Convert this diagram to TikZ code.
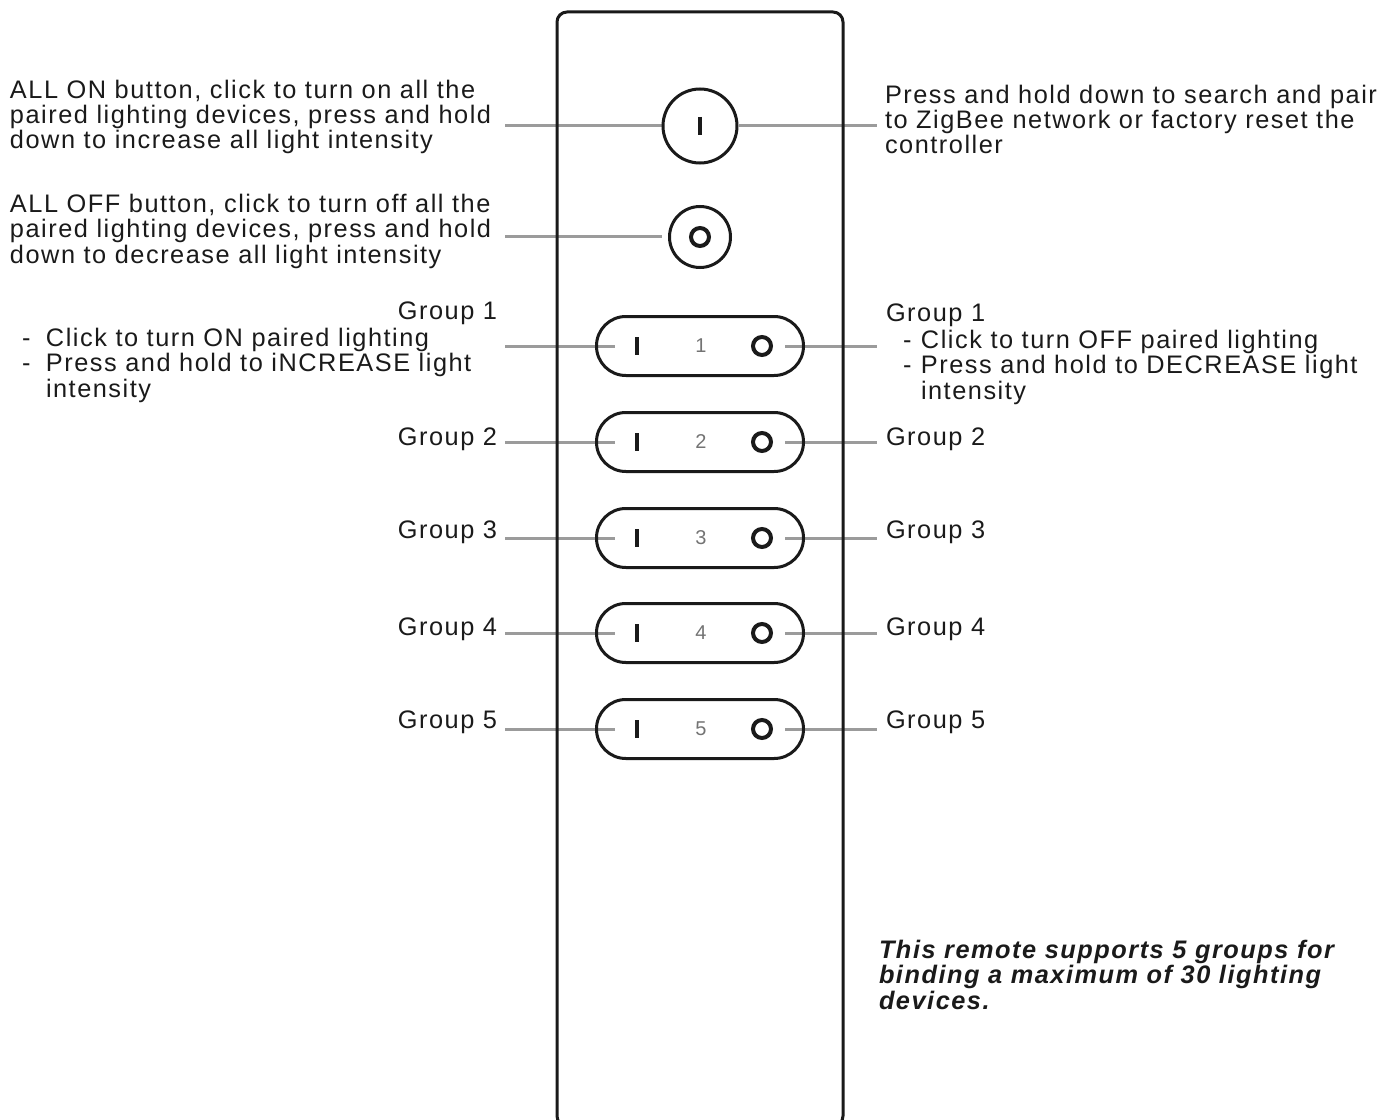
\documentclass[tikz,border=0pt]{standalone}
\usepackage{fontspec}
\setmainfont{Liberation Sans}[LetterSpace=6]
\newfontfamily\numfont{Liberation Sans}
\usetikzlibrary{calc}
\definecolor{linegray}{RGB}{155,155,155}
\definecolor{ink}{RGB}{26,26,26}
\pgfdeclarelayer{bg}
\pgfsetlayers{bg,main}
\begin{document}
\begin{tikzpicture}[x=0.75pt,y=-0.75pt,
  lbl/.style={inner sep=0pt, outer sep=0pt, align=left, text=ink, font=\fontsize{19}{19.1}\selectfont},
  note/.style={lbl, font=\fontsize{19}{19.1}\selectfont\bfseries\itshape},
  conn/.style={draw=linegray, line width=2.25pt},
  outline/.style={draw=ink, line width=2.25pt},
  roundbtn/.style={outline, circle, inner sep=0pt},
  grpbtn/.style={outline, rectangle, rounded corners=22pt, minimum width=155.25pt, minimum height=44.25pt, inner sep=0pt},
  glyph/.style={draw=ink, line width=3pt},
  num/.style={inner sep=0pt, text=black!55, font=\numfont\fontsize{15}{15}\selectfont}
]
\useasboundingbox (0,0) rectangle (1379,1120);

% remote body
\draw[outline, rounded corners=7.5pt] (557,12) rectangle (843,1126);

% top buttons
\node[roundbtn, minimum size=55.5pt] (on) at (700,126) {};
\draw[glyph, line width=2.6pt] ($(on)+(0,-9)$) -- ($(on)+(0,9)$);
\node[roundbtn, minimum size=45.75pt] (off) at (700,237) {};
\draw[glyph] (off) circle[radius=9];

% group buttons
\foreach \k/\yy in {1/346,2/442,3/538,4/633,5/729} {
  \node[grpbtn] (g\k) at (700,\yy) {};
  \draw[glyph] ($(g\k)+(-63,-9)$) -- ($(g\k)+(-63,9)$);
  \draw[glyph] ($(g\k)+(62,0)$) circle[radius=9];
  \node[num] (n\k) at ($(g\k)+(1,0)$) {\k};
  \coordinate (gl\k) at (505,\yy);
  \coordinate (gr\k) at (877,\yy);
}

% labels (base anchor = baseline of the last line)
\node[lbl, anchor=base west] (tOn) at (10,149) {ALL ON button, click to turn on all the\\paired lighting devices, press and hold\\down to increase all light intensity};
\node[lbl, anchor=base west] (tOff) at (10,263) {ALL OFF button, click to turn off all the\\paired lighting devices, press and hold\\down to decrease all light intensity};
\node[lbl, anchor=base west] (tPair) at (885,154) {Press and hold down to search and pair\\to ZigBee network or factory reset the\\controller};

\node[lbl, anchor=base east] (tG1L) at (497,320) {Group 1};
\node[lbl, anchor=base west] (tG1Lb) at (22,397) {\makebox[18pt][l]{-}Click to turn ON paired lighting\\\makebox[18pt][l]{-}Press and hold to iNCREASE light\\\hspace*{18pt}intensity};
\node[lbl, anchor=base west] (tG1R) at (886,321) {Group 1};
\node[lbl, anchor=base west] (tG1Rb) at (903,399) {\makebox[13.5pt][l]{-}Click to turn OFF paired lighting\\\makebox[13.5pt][l]{-}Press and hold to DECREASE light\\\hspace*{13.5pt}intensity};

\foreach \k/\yy in {2/445.5,3/538.5,4/635.5,5/728.5} {
  \node[lbl, anchor=base east] (tGL\k) at (497,\yy) {Group \k};
  \node[lbl, anchor=base west] (tGR\k) at (886,\yy) {Group \k};
}

\node[note, anchor=base west] (tNote) at (879,1009) {This remote supports 5 groups for\\binding a maximum of 30 lighting\\devices.};

% connectors
\coordinate (cOnL) at (505,126);
\coordinate (cOnR) at (877,126);
\coordinate (cOffL) at (505,237);
\begin{pgfonlayer}{bg}
  \draw[conn] (cOnL) -- (on.west);
  \draw[conn] (on.east) -- (cOnR);
  \draw[conn, shorten >=4.5pt] (cOffL) -- (off.west);
  \foreach \k in {1,...,5} {
    \draw[conn] (gl\k) -- ($(g\k.west)+(20,0)$);
    \draw[conn] ($(g\k.east)+(-20,0)$) -- (gr\k);
  }
\end{pgfonlayer}
\end{tikzpicture}
\end{document}
